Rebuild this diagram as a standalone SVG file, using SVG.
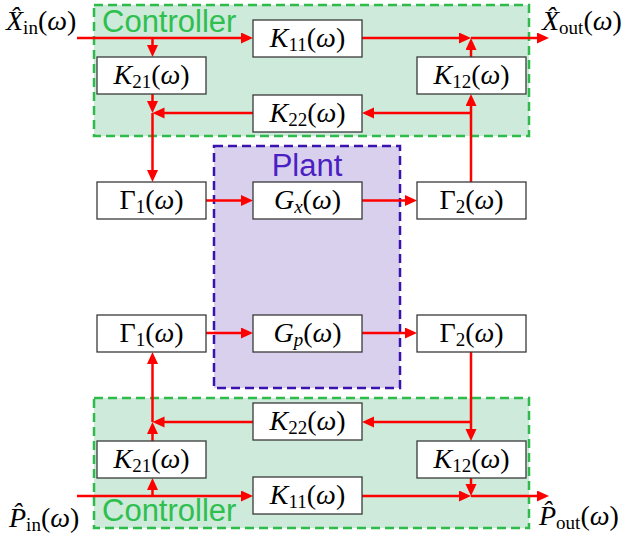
<svg xmlns="http://www.w3.org/2000/svg" width="633" height="539" viewBox="0 0 633 539">
<style>
.ctrl{fill:#cdeadb;stroke:#2fbb4a;stroke-width:2.5;stroke-dasharray:9 5}
.plant{fill:#d9d0ee;stroke:#3a12b0;stroke-width:2.5;stroke-dasharray:9 5}
.box{fill:#fff;stroke:#3a3a3a;stroke-width:1.3}
.m{font-family:"Liberation Serif","DejaVu Serif",serif;font-size:28px;fill:#000}
.i{font-style:italic}
.s{font-size:19px}
.lbl{font-family:"Liberation Sans",Arial,sans-serif;font-size:31px}
.w{fill:none;stroke:#ff0000;stroke-width:2.5}
</style>
<defs>
<marker id="ah" markerUnits="userSpaceOnUse" markerWidth="13" markerHeight="12" refX="8" refY="5.5" orient="auto">
<path d="M0,0 L12,5.5 L0,11 z" fill="#ff0000"/>
</marker>
</defs>

<g id="controller-top">
<rect class="ctrl" x="94" y="5" width="435" height="131"/>
<text class="lbl" x="102" y="32" fill="#2fbf4f">Controller</text>
</g>
<g id="controller-bottom">
<rect class="ctrl" x="94" y="398" width="435" height="130"/>
<text class="lbl" x="102" y="521" fill="#2fbf4f">Controller</text>
</g>
<g id="plant">
<rect class="plant" x="214" y="146" width="186" height="242"/>
<text class="lbl" x="307" y="176" text-anchor="middle" fill="#4a20c2">Plant</text>
</g>

<g id="connectors">
<path class="w" d="M77,38 H249" marker-end="url(#ah)"/>
<path class="w" d="M152.5,38 V53" marker-end="url(#ah)"/>
<path class="w" d="M362,38 H467" marker-end="url(#ah)"/>
<path class="w" d="M471,38 H545" marker-end="url(#ah)"/>
<path class="w" d="M471,57 V42" marker-end="url(#ah)"/>
<path class="w" d="M471,182 V98" marker-end="url(#ah)"/>
<path class="w" d="M471,113 H366" marker-end="url(#ah)"/>
<path class="w" d="M253,113 H156.5" marker-end="url(#ah)"/>
<path class="w" d="M152.5,94 V109" marker-end="url(#ah)"/>
<path class="w" d="M152.5,113 V178" marker-end="url(#ah)"/>
<path class="w" d="M206,200.5 H249" marker-end="url(#ah)"/>
<path class="w" d="M362,200.5 H413" marker-end="url(#ah)"/>
<path class="w" d="M206,333 H249" marker-end="url(#ah)"/>
<path class="w" d="M362,333 H413" marker-end="url(#ah)"/>
<path class="w" d="M471,352 V437" marker-end="url(#ah)"/>
<path class="w" d="M471,422 H366" marker-end="url(#ah)"/>
<path class="w" d="M253,422 H156.5" marker-end="url(#ah)"/>
<path class="w" d="M152.5,441 V426" marker-end="url(#ah)"/>
<path class="w" d="M152.5,422 V356" marker-end="url(#ah)"/>
<path class="w" d="M77,496 H249" marker-end="url(#ah)"/>
<path class="w" d="M152.5,496 V482" marker-end="url(#ah)"/>
<path class="w" d="M362,496 H467" marker-end="url(#ah)"/>
<path class="w" d="M471,478 V492" marker-end="url(#ah)"/>
<path class="w" d="M471,496 H545" marker-end="url(#ah)"/>
</g>

<g id="K11-top"><rect class="box" x="253" y="20" width="109" height="37"/>
<text class="m" x="307.5" y="46.5" text-anchor="middle"><tspan class="i">K</tspan><tspan class="s" dy="4">11</tspan><tspan dy="-4">(</tspan><tspan class="i">ω</tspan>)</text></g>
<g id="K21-top"><rect class="box" x="97" y="57" width="109" height="37"/>
<text class="m" x="151.5" y="83.5" text-anchor="middle"><tspan class="i">K</tspan><tspan class="s" dy="4">21</tspan><tspan dy="-4">(</tspan><tspan class="i">ω</tspan>)</text></g>
<g id="K22-top"><rect class="box" x="253" y="95" width="109" height="37"/>
<text class="m" x="307.5" y="121.5" text-anchor="middle"><tspan class="i">K</tspan><tspan class="s" dy="4">22</tspan><tspan dy="-4">(</tspan><tspan class="i">ω</tspan>)</text></g>
<g id="K12-top"><rect class="box" x="417" y="57" width="109" height="37"/>
<text class="m" x="471.5" y="83.5" text-anchor="middle"><tspan class="i">K</tspan><tspan class="s" dy="4">12</tspan><tspan dy="-4">(</tspan><tspan class="i">ω</tspan>)</text></g>

<g id="Gamma1-top"><rect class="box" x="97" y="182" width="109" height="37"/>
<text class="m" x="151.5" y="209" text-anchor="middle">Γ<tspan class="s" dy="4">1</tspan><tspan dy="-4">(</tspan><tspan class="i">ω</tspan>)</text></g>
<g id="Gx"><rect class="box" x="253" y="182" width="109" height="37"/>
<text class="m" x="307.5" y="209" text-anchor="middle"><tspan class="i">G</tspan><tspan class="s i" dy="4">x</tspan><tspan dy="-4">(</tspan><tspan class="i">ω</tspan>)</text></g>
<g id="Gamma2-top"><rect class="box" x="417" y="182" width="109" height="37"/>
<text class="m" x="471.5" y="209" text-anchor="middle">Γ<tspan class="s" dy="4">2</tspan><tspan dy="-4">(</tspan><tspan class="i">ω</tspan>)</text></g>

<g id="Gamma1-bottom"><rect class="box" x="97" y="315" width="109" height="37"/>
<text class="m" x="151.5" y="342" text-anchor="middle">Γ<tspan class="s" dy="4">1</tspan><tspan dy="-4">(</tspan><tspan class="i">ω</tspan>)</text></g>
<g id="Gp"><rect class="box" x="253" y="315" width="109" height="37"/>
<text class="m" x="307.5" y="342" text-anchor="middle"><tspan class="i">G</tspan><tspan class="s i" dy="4">p</tspan><tspan dy="-4">(</tspan><tspan class="i">ω</tspan>)</text></g>
<g id="Gamma2-bottom"><rect class="box" x="417" y="315" width="109" height="37"/>
<text class="m" x="471.5" y="342" text-anchor="middle">Γ<tspan class="s" dy="4">2</tspan><tspan dy="-4">(</tspan><tspan class="i">ω</tspan>)</text></g>

<g id="K22-bottom"><rect class="box" x="253" y="403" width="109" height="37"/>
<text class="m" x="307.5" y="429.5" text-anchor="middle"><tspan class="i">K</tspan><tspan class="s" dy="4">22</tspan><tspan dy="-4">(</tspan><tspan class="i">ω</tspan>)</text></g>
<g id="K21-bottom"><rect class="box" x="97" y="441" width="109" height="37"/>
<text class="m" x="151.5" y="467.5" text-anchor="middle"><tspan class="i">K</tspan><tspan class="s" dy="4">21</tspan><tspan dy="-4">(</tspan><tspan class="i">ω</tspan>)</text></g>
<g id="K12-bottom"><rect class="box" x="417" y="441" width="109" height="37"/>
<text class="m" x="471.5" y="467.5" text-anchor="middle"><tspan class="i">K</tspan><tspan class="s" dy="4">12</tspan><tspan dy="-4">(</tspan><tspan class="i">ω</tspan>)</text></g>
<g id="K11-bottom"><rect class="box" x="253" y="477" width="109" height="37"/>
<text class="m" x="307.5" y="503.5" text-anchor="middle"><tspan class="i">K</tspan><tspan class="s" dy="4">11</tspan><tspan dy="-4">(</tspan><tspan class="i">ω</tspan>)</text></g>

<g id="X-in"><text class="m" x="6" y="30"><tspan class="i">X̂</tspan><tspan class="s" dy="4">in</tspan><tspan dy="-4">(</tspan><tspan class="i">ω</tspan>)</text></g>
<g id="X-out"><text class="m" x="542" y="30"><tspan class="i">X̂</tspan><tspan class="s" dy="4">out</tspan><tspan dy="-4">(</tspan><tspan class="i">ω</tspan>)</text></g>
<g id="P-in"><text class="m" x="9" y="527"><tspan class="i">P̂</tspan><tspan class="s" dy="4">in</tspan><tspan dy="-4">(</tspan><tspan class="i">ω</tspan>)</text></g>
<g id="P-out"><text class="m" x="539" y="525"><tspan class="i">P̂</tspan><tspan class="s" dy="4">out</tspan><tspan dy="-4">(</tspan><tspan class="i">ω</tspan>)</text></g>
</svg>
